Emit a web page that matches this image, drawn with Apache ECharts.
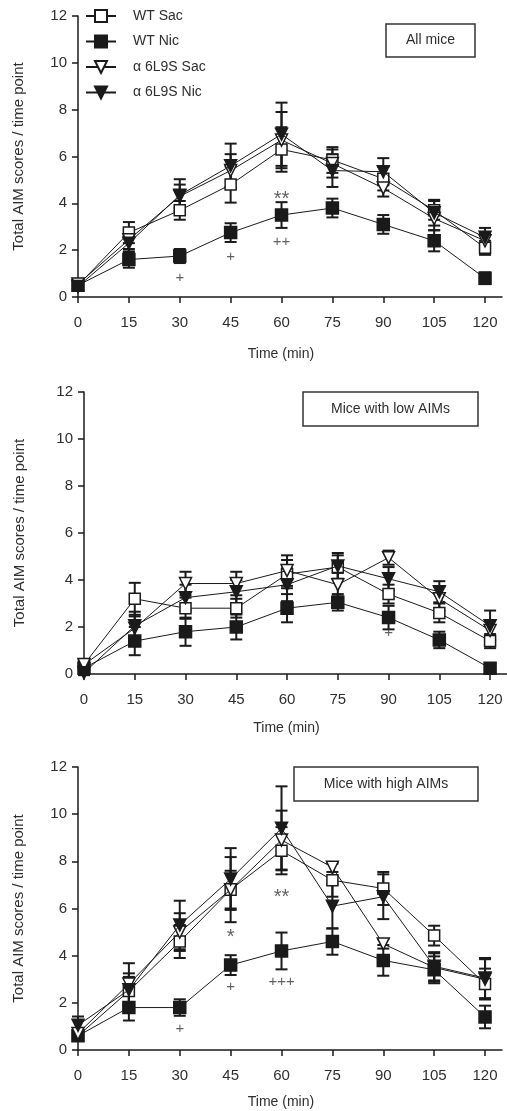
<!DOCTYPE html>
<html>
<head>
<meta charset="utf-8">
<script src="https://cdn.jsdelivr.net/npm/echarts@6/dist/echarts.min.js"></script>
<style>
  html, body { margin: 0; padding: 0; background: #fff; }
  #chart { width: 507px; height: 1111px; }
</style>
</head>
<body>
<div id="chart"></div>
<script>
// --- data ---
const timePoints = [0, 15, 30, 45, 60, 75, 90, 105, 120];
const seriesNames = ["WT Sac", "WT Nic", "α 6L9S Sac", "α 6L9S Nic"];
const panelTitles = ["All mice", "Mice with low AIMs", "Mice with high AIMs"];

// all mice
const allWtSac = [0.5, 2.75, 3.7, 4.8, 6.3, 5.85, 5.05, 3.7, 2.1];
const allWtSacSem = [0.15, 0.45, 0.4, 0.77, 0.95, 0.55, 0.5, 0.4, 0.3];
const allWtNic = [0.5, 1.6, 1.75, 2.75, 3.5, 3.8, 3.1, 2.4, 0.8];
const allWtNicSem = [0.15, 0.35, 0.3, 0.4, 0.55, 0.4, 0.4, 0.45, 0.25];
const allA6Sac = [0.55, 2.45, 4.3, 5.4, 6.7, 5.7, 4.65, 3.35, 2.4];
const allA6SacSem = [0.15, 0.4, 0.5, 0.7, 1.2, 0.6, 0.36, 0.5, 0.3];
const allA6Nic = [0.45, 2.3, 4.35, 5.6, 6.95, 5.4, 5.35, 3.6, 2.55];
const allA6NicSem = [0.15, 0.4, 0.68, 0.95, 1.35, 0.7, 0.58, 0.55, 0.4];
const allMarks = [[30, 0.82, "+"], [45, 1.7, "+"], [60, 4.29, "**"], [60, 2.36, "++"]];

// mice with low AIMs
const lowWtSac = [0.4, 3.2, 2.8, 2.8, 4.25, 4.55, 3.4, 2.6, 1.4];
const lowWtSacSem = [0.1, 0.68, 0.45, 0.4, 0.6, 0.5, 0.4, 0.4, 0.3];
const lowWtNic = [0.25, 1.4, 1.8, 2.0, 2.8, 3.05, 2.4, 1.45, 0.25];
const lowWtNicSem = [0.1, 0.6, 0.6, 0.53, 0.6, 0.35, 0.5, 0.35, 0.1];
const lowA6Sac = [0.4, 1.95, 3.85, 3.85, 4.4, 3.8, 4.95, 3.2, 1.85];
const lowA6SacSem = [0.1, 0.5, 0.5, 0.5, 0.65, 0.5, 0.3, 0.5, 0.4];
const lowA6Nic = [0.05, 2.05, 3.25, 3.5, 3.8, 4.6, 4.05, 3.5, 2.05];
const lowA6NicSem = [0.1, 0.6, 0.55, 0.5, 0.7, 0.55, 0.5, 0.45, 0.65];
const lowMarks = [[90, 1.75, "+"]];

// mice with high AIMs
const highWtSac = [0.6, 2.5, 4.6, 6.8, 8.45, 7.2, 6.85, 4.85, 2.8];
const highWtSacSem = [0.2, 0.6, 0.7, 0.8, 1.0, 0.7, 0.7, 0.42, 0.65];
const highWtNic = [0.6, 1.8, 1.8, 3.6, 4.2, 4.6, 3.8, 3.4, 1.4];
const highWtNicSem = [0.2, 0.55, 0.35, 0.42, 0.78, 0.56, 0.65, 0.57, 0.48];
const highA6Sac = [0.7, 2.8, 5.0, 6.8, 8.9, 7.75, 4.5, 3.5, 3.0];
const highA6SacSem = [0.2, 0.88, 0.8, 1.38, 1.25, 0.2, 0.2, 0.6, 0.85];
const highA6Nic = [1.05, 2.55, 5.3, 7.25, 9.4, 6.1, 6.5, 3.55, 3.05];
const highA6NicSem = [0.37, 0.7, 1.03, 1.31, 1.78, 0.95, 0.95, 0.6, 0.85];
const highMarks = [[30, 0.88, "+"], [45, 4.88, "*"], [45, 2.69, "+"], [60, 6.58, "**"], [60, 2.9, "+++"]];

// --- layout ---
const FONT = "'Liberation Sans', Arial, sans-serif";
const INK = "#1a1a1a";
const TXT = "#2e2e2e";

const panels = [
  { means: [allWtSac, allWtNic, allA6Sac, allA6Nic], sems: [allWtSacSem, allWtNicSem, allA6SacSem, allA6NicSem], marks: allMarks,
    grid: { left: 78, top: 16, width: 424, height: 281 }, nameGap: 52, xNameGap: 50,
    box: { x: 386, y: 24, w: 89, h: 33 } },
  { means: [lowWtSac, lowWtNic, lowA6Sac, lowA6Nic], sems: [lowWtSacSem, lowWtNicSem, lowA6SacSem, lowA6NicSem], marks: lowMarks,
    grid: { left: 84, top: 392, width: 423, height: 282 }, nameGap: 57, xNameGap: 47,
    box: { x: 303, y: 392, w: 175, h: 34 } },
  { means: [highWtSac, highWtNic, highA6Sac, highA6Nic], sems: [highWtSacSem, highWtNicSem, highA6SacSem, highA6NicSem], marks: highMarks,
    grid: { left: 78, top: 767, width: 424, height: 283 }, nameGap: 52, xNameGap: 45,
    box: { x: 294, y: 767, w: 184, h: 34 } },
];

const markerStyles = [
  { symbol: "rect", size: 11, fill: "#fff", rotate: 0 },
  { symbol: "rect", size: 12, fill: INK, rotate: 0 },
  { symbol: "triangle", size: 12, fill: "#fff", rotate: 180 },
  { symbol: "triangle", size: 12, fill: INK, rotate: 180 },
];

function errorBarSeries(name, means, sems, idx) {
  return {
    type: "custom",
    name,
    xAxisIndex: idx,
    yAxisIndex: idx,
    silent: true,
    z: 3,
    data: timePoints.map((t, i) => [t, means[i] - sems[i], means[i] + sems[i]]),
    encode: { x: 0, y: [1, 2] },
    renderItem: (params, api) => {
      const x = api.value(0);
      const lo = api.coord([x, api.value(1)]);
      const hi = api.coord([x, api.value(2)]);
      const w = 6;
      const style = { stroke: INK, lineWidth: 2 };
      return {
        type: "group",
        children: [
          { type: "line", shape: { x1: lo[0], y1: lo[1], x2: hi[0], y2: hi[1] }, style },
          { type: "line", shape: { x1: hi[0] - w, y1: hi[1], x2: hi[0] + w, y2: hi[1] }, style },
          { type: "line", shape: { x1: lo[0] - w, y1: lo[1], x2: lo[0] + w, y2: lo[1] }, style },
        ],
      };
    },
  };
}

const grids = [];
const xAxes = [];
const yAxes = [];
const series = [];
const graphics = [];

panels.forEach((p, idx) => {
  grids.push({ ...p.grid, containLabel: false, outerBoundsMode: "none" });
  xAxes.push({
    gridIndex: idx,
    type: "value",
    min: 0,
    max: 125,
    name: "Time (min)",
    nameLocation: "middle",
    nameGap: p.xNameGap,
    nameTextStyle: { fontFamily: FONT, fontSize: 14, color: TXT, padding: [0, 18, 0, 0] },
    axisLine: { lineStyle: { color: INK, width: 1.5 } },
    axisTick: { inside: false, length: 6, lineStyle: { color: INK, width: 1.5 }, customValues: timePoints },
    axisLabel: { fontFamily: FONT, fontSize: 15, color: TXT, margin: 18, customValues: timePoints },
    splitLine: { show: false },
  });
  yAxes.push({
    gridIndex: idx,
    type: "value",
    min: 0,
    max: 12,
    interval: 2,
    name: "Total AIM scores / time point",
    nameLocation: "middle",
    nameGap: p.nameGap,
    nameTextStyle: { fontFamily: FONT, fontSize: 15, color: TXT },
    axisLine: { show: true, lineStyle: { color: INK, width: 1.5 } },
    axisTick: { show: true, length: 6, lineStyle: { color: INK, width: 1.5 } },
    axisLabel: { fontFamily: FONT, fontSize: 15, color: TXT, margin: 11 },
    splitLine: { show: false },
  });

  seriesNames.forEach((name, s) => {
    const m = markerStyles[s];
    series.push({
      type: "line",
      name,
      xAxisIndex: idx,
      yAxisIndex: idx,
      data: timePoints.map((t, i) => [t, p.means[s][i]]),
      symbol: m.symbol,
      symbolSize: m.size,
      symbolRotate: m.rotate,
      showAllSymbol: true,
      itemStyle: { color: m.fill, borderColor: INK, borderWidth: 1.5 },
      lineStyle: { color: INK, width: 1 },
      emphasis: { disabled: true },
      animation: false,
      z: 4 + s,
    });
    series.push(errorBarSeries(name, p.means[s], p.sems[s], idx));
  });

  series.push({
    type: "scatter",
    xAxisIndex: idx,
    yAxisIndex: idx,
    silent: true,
    symbolSize: 0,
    data: p.marks,
    label: {
      show: true,
      position: "inside",
      formatter: (d) => d.value[2],
      fontFamily: FONT,
      fontSize: 15,
      color: "#3a3a3a",
    },
    labelLayout: (params) => {
      const txt = p.marks[params.dataIndex][2];
      return txt.indexOf("*") >= 0 ? { fontSize: 20, dy: 3 } : {};
    },
    z: 10,
  });

  graphics.push({
    type: "rect",
    shape: { x: p.box.x, y: p.box.y, width: p.box.w, height: p.box.h },
    style: { fill: "#fff", stroke: "#333", lineWidth: 1.5 },
    z: 20,
  });
  graphics.push({
    type: "text",
    x: p.box.x + p.box.w / 2,
    y: p.box.y + p.box.h / 2,
    style: {
      text: panelTitles[idx],
      font: "14px " + FONT,
      fill: TXT,
      align: "center",
      verticalAlign: "middle",
    },
    z: 21,
  });
});

const chart = echarts.init(document.getElementById("chart"), null, { renderer: "canvas" });
chart.setOption({
  backgroundColor: "#fff",
  animation: false,
  grid: grids,
  xAxis: xAxes,
  yAxis: yAxes,
  legend: {
    data: seriesNames,
    orient: "vertical",
    left: 85,
    top: 9,
    padding: 0,
    itemWidth: 30,
    itemHeight: 15,
    itemGap: 11.5,
    lineStyle: { width: 2 },
    textStyle: { fontFamily: FONT, fontSize: 14, color: TXT, padding: [0, 0, 0, 12] },
    selectedMode: false,
  },
  graphic: graphics,
  series,
});
</script>
</body>
</html>
